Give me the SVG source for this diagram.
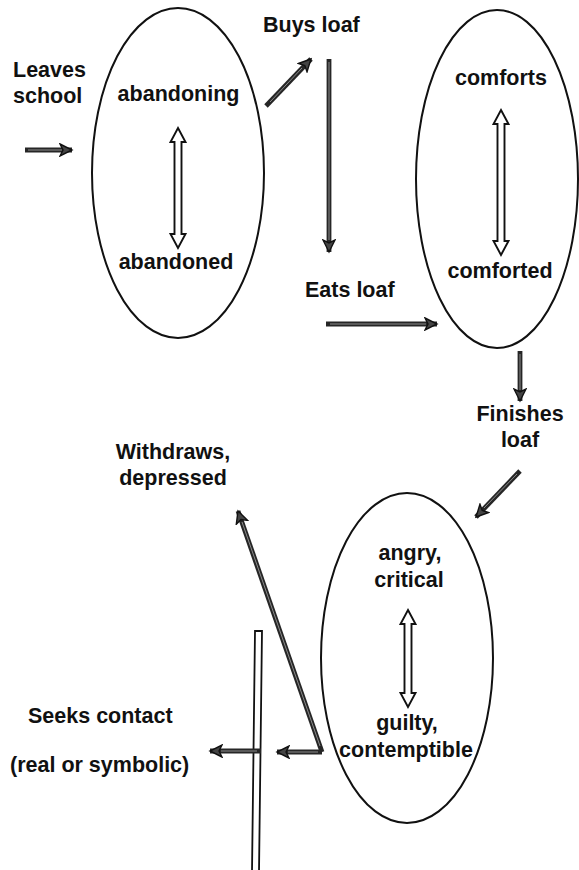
<svg xmlns="http://www.w3.org/2000/svg" width="579" height="870" viewBox="0 0 579 870">
  <style>
    .bg { fill: #ffffff; }
    .label { font-family: "Liberation Sans", Arial, Helvetica, sans-serif; font-weight: bold; font-size: 21.5px; fill: #111111; }
    .mid { text-anchor: middle; }
    .oval { fill: none; stroke: #111111; stroke-width: 2; }
    .flow { fill: none; stroke: #262626; stroke-width: 4.8; stroke-linejoin: miter; marker-end: url(#head); }
    .flow-core { fill: none; stroke: #8c8c8c; stroke-width: 1; }
    .swing { fill: #ffffff; stroke: #111111; stroke-width: 1.9; stroke-linejoin: miter; }
    .wall { fill: #ffffff; stroke: #111111; stroke-width: 1.8; }
  </style>
  <defs>
    <marker id="head" markerUnits="userSpaceOnUse" markerWidth="16" markerHeight="14" refX="13" refY="7" orient="auto">
      <path d="M1,1 L13,7 L1,13 L4,7 Z" fill="#444444" stroke="#111111" stroke-width="1.4" stroke-linejoin="miter"/>
    </marker>
  </defs>

  <rect class="bg" x="0" y="0" width="579" height="870"/>

  <!-- first state: abandoning / abandoned -->
  <g id="node-abandon">
    <ellipse class="oval" cx="178" cy="173" rx="86" ry="165"/>
    <text class="label mid" x="178.5" y="101">abandoning</text>
    <text class="label mid" x="176" y="269">abandoned</text>
    <path class="swing" d="M178,128 L185.5,142 L181.5,142 L181.5,234 L185.5,234 L178,248 L170.5,234 L174.5,234 L174.5,142 L170.5,142 Z"/>
  </g>

  <!-- second state: comforts / comforted -->
  <g id="node-comfort">
    <ellipse class="oval" cx="497" cy="179" rx="81" ry="169"/>
    <text class="label mid" x="501" y="85">comforts</text>
    <text class="label mid" x="500" y="278">comforted</text>
    <path class="swing" d="M501,110 L508.5,124 L504.5,124 L504.5,241 L508.5,241 L501,255 L493.5,241 L497.5,241 L497.5,124 L493.5,124 Z"/>
  </g>

  <!-- third state: angry, critical / guilty, contemptible -->
  <g id="node-angry">
    <ellipse class="oval" cx="407" cy="658" rx="86" ry="165"/>
    <text class="label mid" x="410" y="560">angry,</text>
    <text class="label mid" x="409" y="587">critical</text>
    <text class="label mid" x="407" y="730">guilty,</text>
    <text class="label mid" x="406" y="757">contemptible</text>
    <path class="swing" d="M408,610 L415.5,624 L411.5,624 L411.5,693 L415.5,693 L408,707 L400.5,693 L404.5,693 L404.5,624 L400.5,624 Z"/>
  </g>

  <!-- event labels -->
  <g id="label-leaves">
    <text class="label" x="13" y="77">Leaves</text>
    <text class="label" x="13" y="103">school</text>
  </g>
  <g id="label-buys">
    <text class="label" x="263" y="32">Buys loaf</text>
  </g>
  <g id="label-eats">
    <text class="label" x="305" y="297">Eats loaf</text>
  </g>
  <g id="label-finishes">
    <text class="label mid" x="520" y="421">Finishes</text>
    <text class="label mid" x="520" y="447">loaf</text>
  </g>
  <g id="label-withdraws">
    <text class="label mid" x="173" y="459">Withdraws,</text>
    <text class="label mid" x="173" y="485">depressed</text>
  </g>
  <g id="label-seeks">
    <text class="label" x="28" y="723">Seeks contact</text>
    <text class="label" x="10" y="772">(real or symbolic)</text>
  </g>

  <!-- barrier between withdrawal and contact -->
  <g id="barrier">
    <polygon class="wall" points="255,631 262,631 259,872 252,872"/>
  </g>

  <!-- connectors -->
  <g id="connectors">
    <path class="flow" d="M25,150 L72,150"/>
    <path class="flow" d="M266,106 L311,59"/>
    <path class="flow" d="M329,59 L329,252"/>
    <path class="flow" d="M326,324 L437,324"/>
    <path class="flow" d="M520,351 L520,401"/>
    <path class="flow" d="M520,471 L476,517"/>
    <path class="flow" d="M322,752 L238,511"/>
    <path class="flow" d="M322,752 L277,752"/>
    <path class="flow" d="M261,751 L210,751"/>
    <!-- pale centre streak along the shafts -->
    <path class="flow-core" d="M28,150 L62,150 M270,102 L302,68 M329,62 L329,240 M330,324 L426,324 M520,354 L520,390 M517,474 L484,508 M320,746 L242,522 M318,752 L288,752 M257,751 L221,751"/>
  </g>
</svg>
